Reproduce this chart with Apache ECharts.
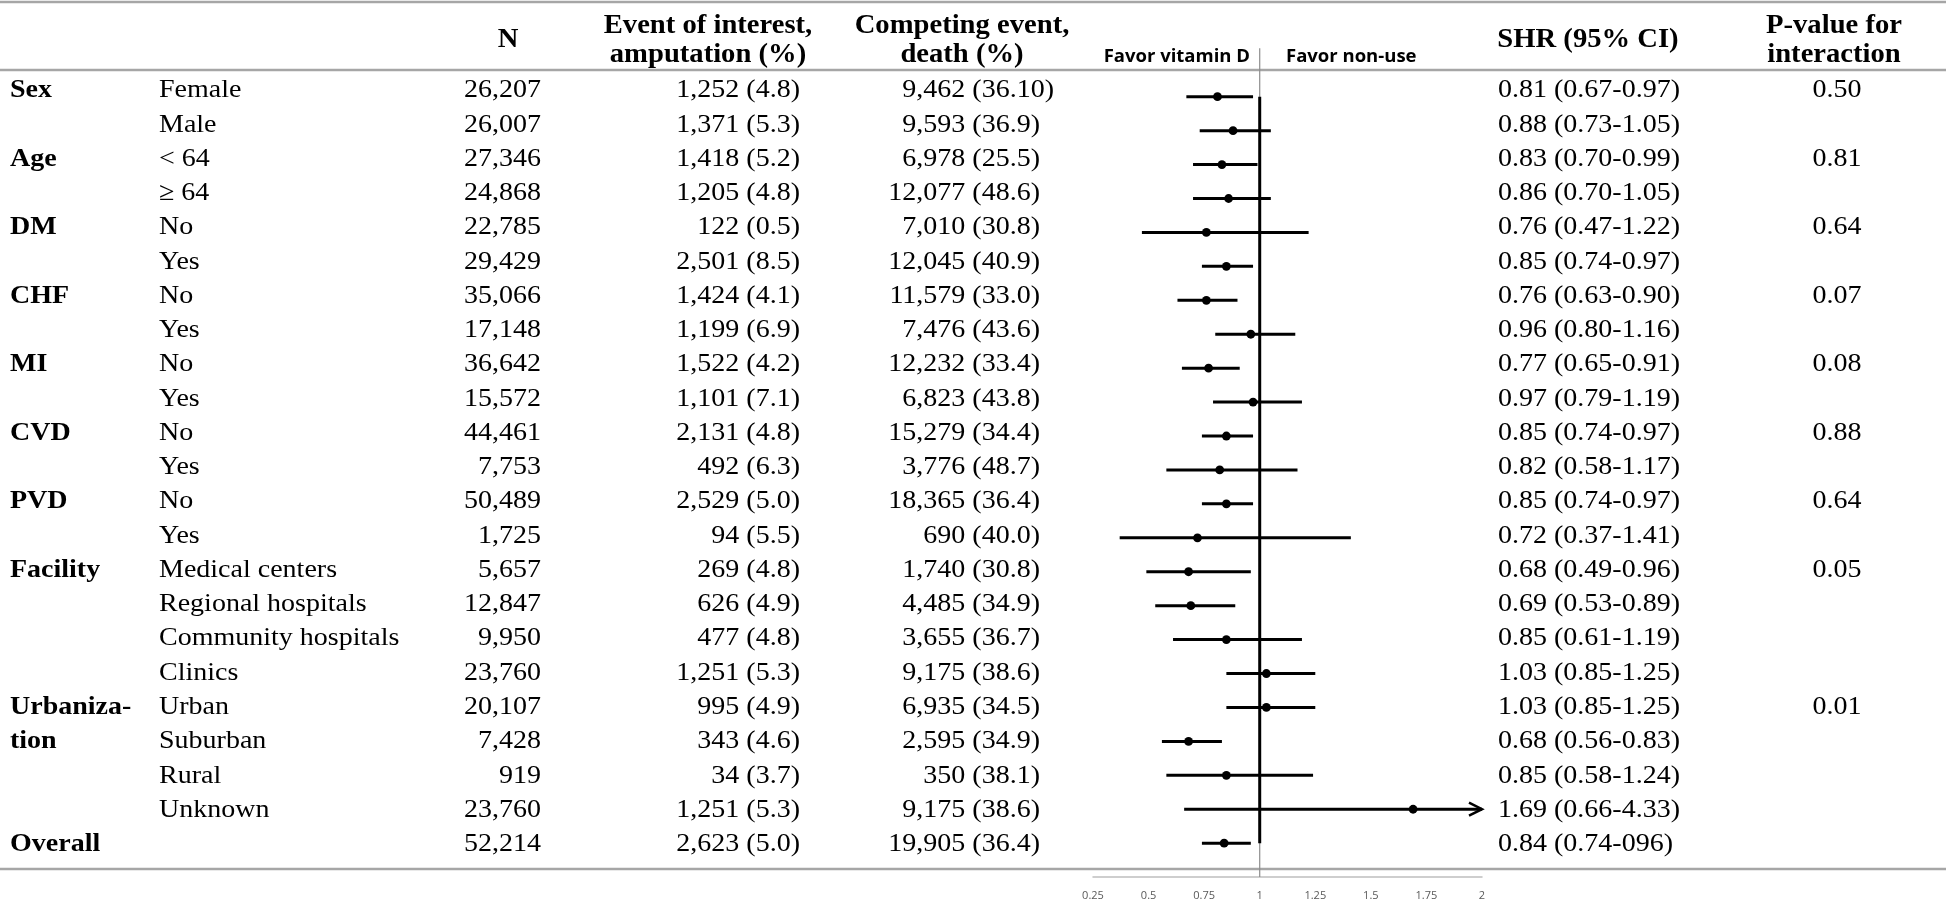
<!DOCTYPE html>
<html><head><meta charset="utf-8">
<script src="https://cdn.jsdelivr.net/npm/echarts@6/dist/echarts.min.js"></script>
<style>html,body{margin:0;padding:0;background:#fff}#c{width:1946px;height:903px}</style>
</head><body><div id="c"></div><script>
// ---------------- data ----------------
const groupLabels = ['Sex','','Age','','DM','','CHF','','MI','','CVD','','PVD','','Facility','','','','Urbaniza-','tion','','','Overall'];
const subgroups = ['Female','Male','< 64','\u2265 64','No','Yes','No','Yes','No','Yes','No','Yes','No','Yes','Medical centers','Regional hospitals','Community hospitals','Clinics','Urban','Suburban','Rural','Unknown',''];
const nTotal = ['26,207','26,007','27,346','24,868','22,785','29,429','35,066','17,148','36,642','15,572','44,461','7,753','50,489','1,725','5,657','12,847','9,950','23,760','20,107','7,428','919','23,760','52,214'];
const eventCounts = ['1,252','1,371','1,418','1,205','122','2,501','1,424','1,199','1,522','1,101','2,131','492','2,529','94','269','626','477','1,251','995','343','34','1,251','2,623'];
const eventPcts = ['4.8','5.3','5.2','4.8','0.5','8.5','4.1','6.9','4.2','7.1','4.8','6.3','5.0','5.5','4.8','4.9','4.8','5.3','4.9','4.6','3.7','5.3','5.0'];
const deathCounts = ['9,462','9,593','6,978','12,077','7,010','12,045','11,579','7,476','12,232','6,823','15,279','3,776','18,365','690','1,740','4,485','3,655','9,175','6,935','2,595','350','9,175','19,905'];
const deathPcts = ['36.10','36.9','25.5','48.6','30.8','40.9','33.0','43.6','33.4','43.8','34.4','48.7','36.4','40.0','30.8','34.9','36.7','38.6','34.5','34.9','38.1','38.6','36.4'];
const shr = [0.81,0.88,0.83,0.86,0.76,0.85,0.76,0.96,0.77,0.97,0.85,0.82,0.85,0.72,0.68,0.69,0.85,1.03,1.03,0.68,0.85,1.69,0.84];
const ciLow = [0.67,0.73,0.70,0.70,0.47,0.74,0.63,0.80,0.65,0.79,0.74,0.58,0.74,0.37,0.49,0.53,0.61,0.85,0.85,0.56,0.58,0.66,0.74];
const ciHigh = [0.97,1.05,0.99,1.05,1.22,0.97,0.90,1.16,0.91,1.19,0.97,1.17,0.97,1.41,0.96,0.89,1.19,1.25,1.25,0.83,1.24,4.33,0.96];
const shrLabels = ['0.81 (0.67-0.97)','0.88 (0.73-1.05)','0.83 (0.70-0.99)','0.86 (0.70-1.05)','0.76 (0.47-1.22)','0.85 (0.74-0.97)','0.76 (0.63-0.90)','0.96 (0.80-1.16)','0.77 (0.65-0.91)','0.97 (0.79-1.19)','0.85 (0.74-0.97)','0.82 (0.58-1.17)','0.85 (0.74-0.97)','0.72 (0.37-1.41)','0.68 (0.49-0.96)','0.69 (0.53-0.89)','0.85 (0.61-1.19)','1.03 (0.85-1.25)','1.03 (0.85-1.25)','0.68 (0.56-0.83)','0.85 (0.58-1.24)','1.69 (0.66-4.33)','0.84 (0.74-096)'];
const pInteraction = ['0.50','','0.81','','0.64','','0.07','','0.08','','0.88','','0.64','','0.05','','','','0.01','','','',''];
const refValue = 1;
const axisMin = 0.25, axisMax = 2, axisStep = 0.25;
const favorLeft = 'Favor vitamin D', favorRight = 'Favor non-use';
const headN = ['N'];
const headEvent = ['Event of interest,','amputation (%)'];
const headDeath = ['Competing event,','death (%)'];
const headSHR = ['SHR (95% CI)'];
const headP = ['P-value for','interaction'];

// ---------------- layout ----------------
const SERIF = '"Liberation Serif","Times New Roman",serif';
const SANS = '"Open Sans","Noto Sans",sans-serif';
const bodyFont = '26px ' + SERIF;
const boldFont = 'bold 26px ' + SERIF;
const headFont = 'bold 27px ' + SERIF;
const SX = 1.077;   // horizontal stretch of the table text
const HX = 1.06;    // horizontal stretch of header text
const col = {cat:10, sub:159, nRight:541, evRight:800, deRight:1040, shr:1498, p:1837};
const ruleColor = '#a6a6a6';
const nRows = subgroups.length;

const mctx = document.createElement('canvas').getContext('2d');
function textW(s, font, sx){ mctx.font = font; return mctx.measureText(s).width * sx; }
const evParen = col.evRight - textW('(4.8)', bodyFont, SX);
const deParen = col.deRight - textW('(36.9)', bodyFont, SX);
const gap = textW(' ', bodyFont, SX);

function txt(text, x, y, font, align, sx){
  return {type:'text', silent:true, x:x, y:y, scaleX:sx || 1, scaleY:1,
    style:{text:text, x:0, y:0, font:font, fill:'#000',
      align:align, textAlign:align, verticalAlign:'middle', textVerticalAlign:'middle'}};
}

const chart = echarts.init(document.getElementById('c'), null, {renderer:'canvas'});
const rows = subgroups.map((s,i)=>i);

const graphics = [
  {type:'line', silent:true, shape:{x1:0,y1:2,x2:1946,y2:2}, style:{stroke:ruleColor, lineWidth:2.5}},
  {type:'line', silent:true, shape:{x1:0,y1:70,x2:1946,y2:70}, style:{stroke:ruleColor, lineWidth:2.5}},
  {type:'line', silent:true, shape:{x1:0,y1:869,x2:1946,y2:869}, style:{stroke:ruleColor, lineWidth:2.5}},
  txt(headN[0], 508, 40, headFont, 'center', HX),
  txt(headEvent[0], 708, 26, headFont, 'center', HX),
  txt(headEvent[1], 708, 55, headFont, 'center', HX),
  txt(headDeath[0], 962, 26, headFont, 'center', HX),
  txt(headDeath[1], 962, 55, headFont, 'center', HX),
  txt(headSHR[0], 1588, 40, headFont, 'center', HX),
  txt(headP[0], 1834, 26, headFont, 'center', HX),
  txt(headP[1], 1834, 55, headFont, 'center', HX),
  txt(favorLeft, 1250, 57, 'bold 18.5px ' + SANS, 'right', 1),
  txt(favorRight, 1286, 57, 'bold 18.5px ' + SANS, 'left', 1)
];

const yTop = -1.43, yBottom = 23;

const option = {
  animation:false,
  backgroundColor:'#ffffff',
  grid:[
    {left:1093, right:464, top:48.2, bottom:25.9},
    {left:0, right:0, top:56.2, bottom:24.5}
  ],
  xAxis:[
    {gridIndex:0, type:'value', min:axisMin, max:axisMax, interval:axisStep,
     axisLine:{show:true, onZero:false, lineStyle:{color:'#bfbfbf', width:1.5}},
     axisTick:{show:false}, splitLine:{show:false},
     axisLabel:{fontFamily:SANS, fontSize:11, color:'#595959', margin:13}},
    {gridIndex:1, type:'value', min:0, max:1946, show:false}
  ],
  yAxis:[
    {gridIndex:0, type:'value', inverse:true, min:yTop, max:yBottom, show:false},
    {gridIndex:1, type:'value', inverse:true, min:-1, max:23, show:false}
  ],
  graphic:graphics,
  series:[
    { // thin reference line through the whole panel
      type:'line', xAxisIndex:0, yAxisIndex:0, silent:true, z:1,
      data:[[refValue,yTop],[refValue,yBottom]], symbol:'none',
      lineStyle:{color:'#8c8c8c', width:1.2}
    },
    { // thick reference line over the rows
      type:'line', xAxisIndex:0, yAxisIndex:0, silent:true, z:2,
      data:[[refValue,0],[refValue,nRows-1]], symbol:'none',
      lineStyle:{color:'#000', width:3}
    },
    {
      type:'custom', xAxisIndex:0, yAxisIndex:0, clip:false, silent:true, z:3,
      data: rows.map(i=>[shr[i], ciLow[i], ciHigh[i], i]),
      encode:{x:[0,1,2], y:3},
      renderItem:function(params, api){
        const est=api.value(0), lo=api.value(1), hi=api.value(2), r=api.value(3);
        const over = hi > axisMax;
        const a=api.coord([lo,r]), b=api.coord([Math.min(hi,axisMax),r]), e=api.coord([est,r]);
        const ch=[
          {type:'line', shape:{x1:a[0],y1:a[1],x2:b[0],y2:b[1]}, style:{stroke:'#000', lineWidth:3}},
          {type:'circle', shape:{cx:e[0],cy:e[1],r:4.4}, style:{fill:'#000'}}
        ];
        if(over){
          ch.push({type:'polyline', shape:{points:[[b[0]-13,b[1]-6.5],[b[0],b[1]],[b[0]-13,b[1]+6.5]]},
            style:{stroke:'#000', fill:null, lineWidth:2.5}});
        }
        return {type:'group', children:ch};
      }
    },
    {
      type:'custom', xAxisIndex:1, yAxisIndex:1, clip:false, silent:true, z:4,
      data: rows.map(i=>[0,i]),
      encode:{x:0, y:1},
      renderItem:function(params, api){
        const i = api.value(1);
        const y = api.coord([0,i])[1];
        const ch = [];
        if(groupLabels[i]) ch.push(txt(groupLabels[i], col.cat, y, boldFont, 'left', SX));
        if(subgroups[i]) ch.push(txt(subgroups[i], col.sub, y, bodyFont, 'left', SX));
        ch.push(txt(nTotal[i], col.nRight, y, bodyFont, 'right', SX));
        ch.push(txt(eventCounts[i], evParen-gap, y, bodyFont, 'right', SX));
        ch.push(txt('('+eventPcts[i]+')', evParen, y, bodyFont, 'left', SX));
        ch.push(txt(deathCounts[i], deParen-gap, y, bodyFont, 'right', SX));
        ch.push(txt('('+deathPcts[i]+')', deParen, y, bodyFont, 'left', SX));
        ch.push(txt(shrLabels[i], col.shr, y, bodyFont, 'left', SX));
        if(pInteraction[i]) ch.push(txt(pInteraction[i], col.p, y, bodyFont, 'center', SX));
        return {type:'group', children:ch};
      }
    }
  ]
};
chart.setOption(option);
</script></body></html>
